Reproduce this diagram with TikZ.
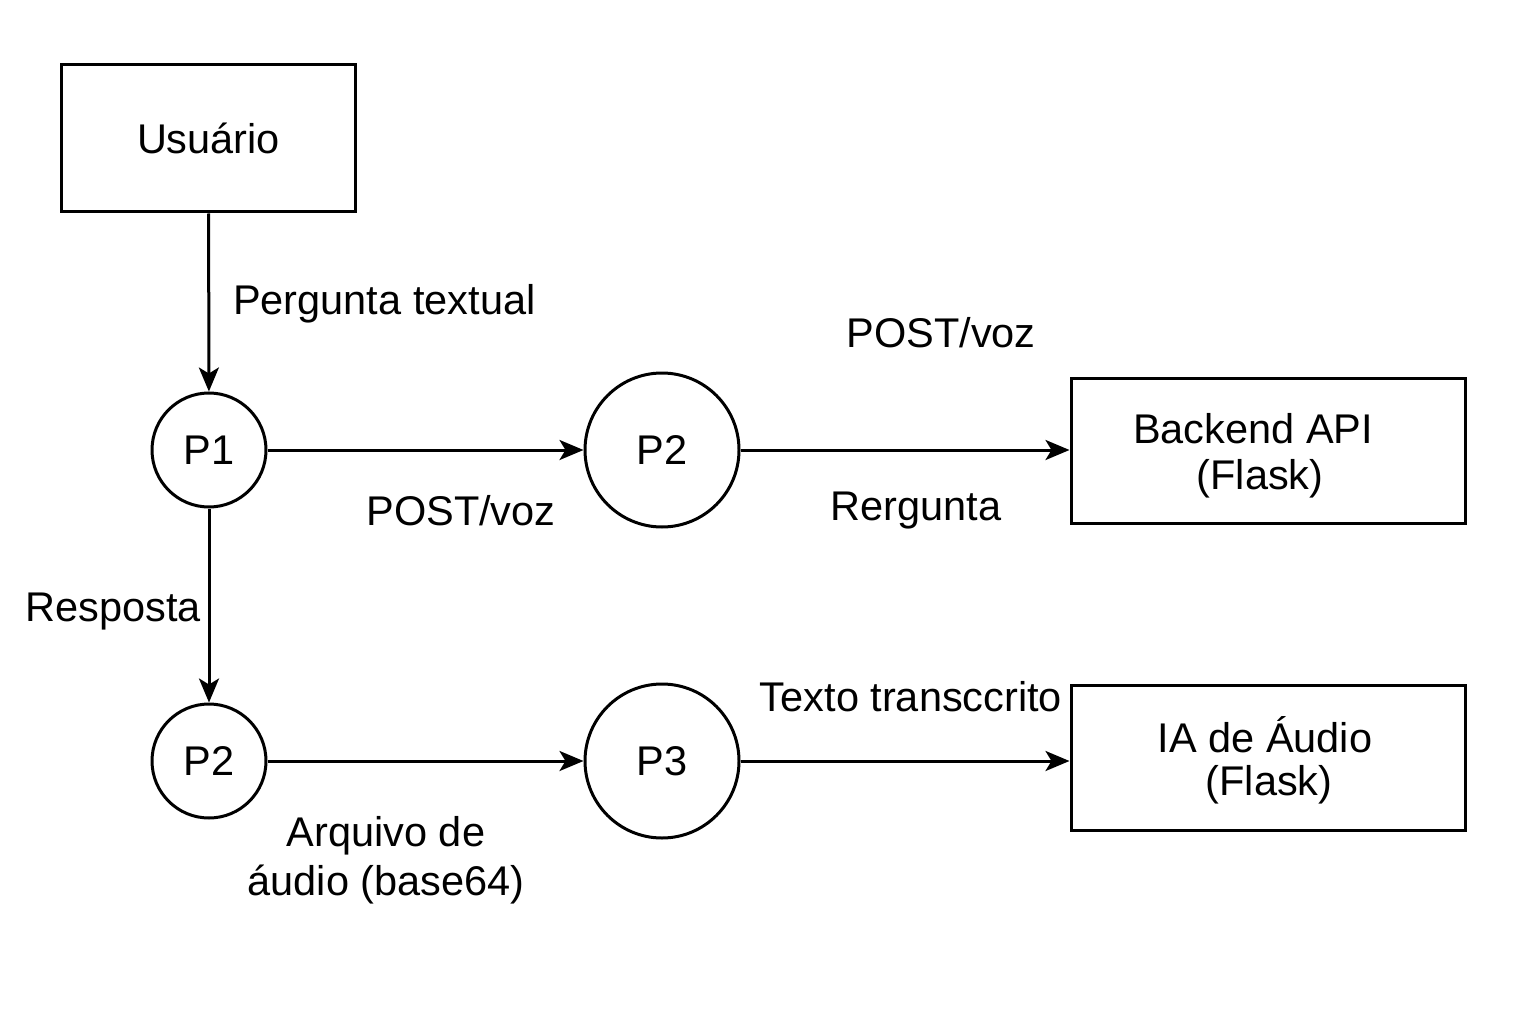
\documentclass[tikz,border=0pt]{standalone}
\usepackage{fontspec}
\setmainfont{Liberation Sans}
\usetikzlibrary{arrows.meta}
\begin{document}
\begin{tikzpicture}[x=1pt,y=-1pt,
  every node/.style={font=\fontsize{41.5}{49}\selectfont, inner sep=0pt},
  box/.style={draw, line width=3pt, minimum width=294pt, minimum height=147pt, align=center},
  wbox/.style={draw, line width=3pt, minimum width=394pt, minimum height=145pt, align=center},
  small/.style={draw, circle, line width=3pt, minimum size=114pt},
  big/.style={draw, circle, line width=3pt, minimum size=154pt},
  flow/.style={line width=3pt, -{Stealth[length=24pt,width=20pt,inset=6pt]}},
  lbl/.style={align=center}]
\useasboundingbox (0,0) rectangle (1536,1024);
\node[box] (user) at (208.5,138.5) {Usuário};
\node[small] (p1) at (209,450) {P1};
\node[big] (p2a) at (662,450) {P2};
\node[wbox] (api) at (1268,450.5) {};
\node (apit1) at (1253,429) {Backend API};
\node (apit2) at (1260,479) {(Flask)};
\node[small] (p2b) at (209,761) {P2};
\node[big] (p3) at (662,761) {P3};
\node[wbox] (ia) at (1268,757.5) {};
\node (iat1) at (1265,735) {IA de Áudio};
\node (iat2) at (1269,785) {(Flask)};
\draw[flow] (user) -- (p1);
\draw[flow] (p1) -- (p2a);
\draw[flow] (p2a) -- (p2a -| api.west);
\draw[flow] (p1) -- (p2b);
\draw[flow] (p2b) -- (p3);
\draw[flow] (p3) -- (p3 -| ia.west);
\node[anchor=west] (l1) at (233,304) {Pergunta textual};
\node (l2) at (461,511) {POST/voz};
\node (l3) at (941,333) {POST/voz};
\node (l4) at (916,511) {Rergunta};
\node[anchor=east] (l5) at (201,612) {Resposta};
\node[lbl] (l6) at (386,860) {Arquivo de\\áudio (base64)};
\node (l7) at (911,697) {Texto transccrito};
\end{tikzpicture}
\end{document}
